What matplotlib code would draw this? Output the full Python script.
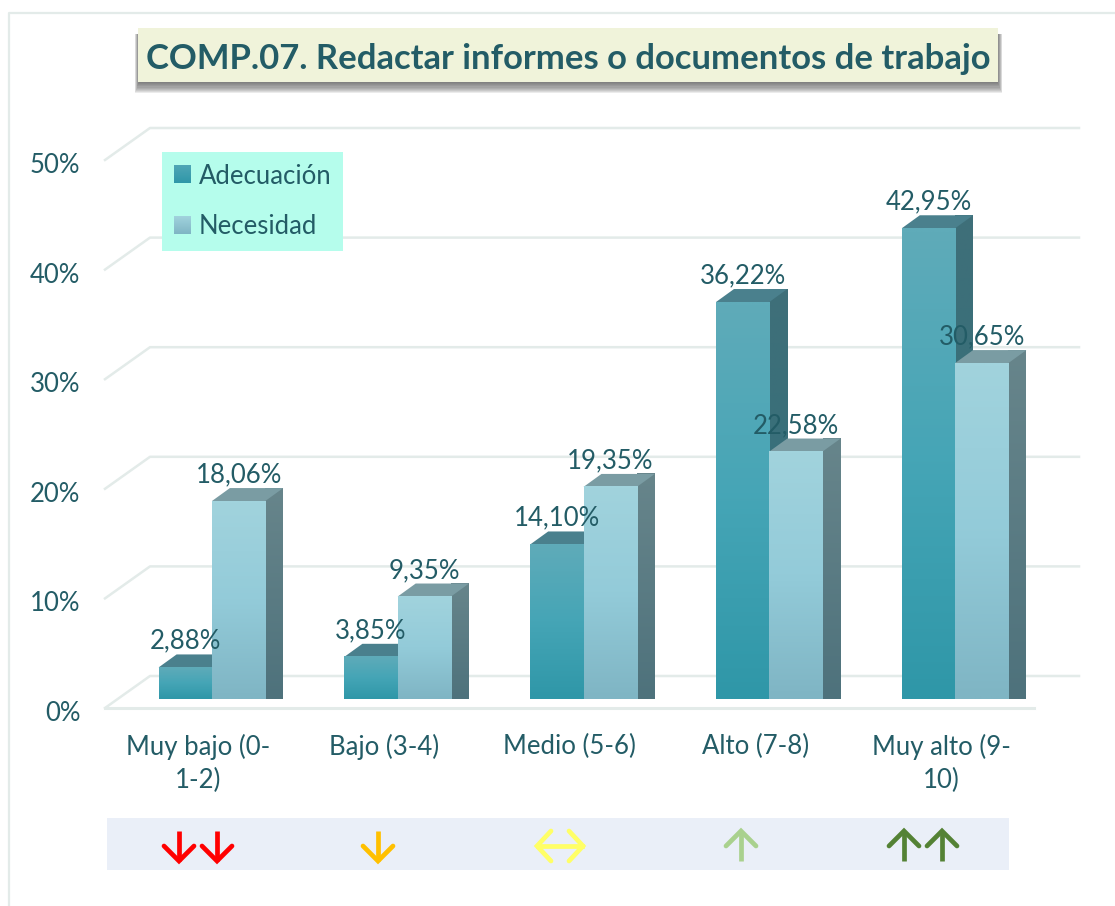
import matplotlib
matplotlib.use("Agg")
import matplotlib.pyplot as plt
import numpy as np
from matplotlib.colors import to_rgb
from matplotlib.patches import Patch, Polygon, Rectangle
from matplotlib.transforms import ScaledTranslation

categories = ["Muy bajo (0-\n1-2)", "Bajo (3-4)", "Medio (5-6)", "Alto (7-8)", "Muy alto (9-\n10)"]
adecuacion = [2.88, 3.85, 14.10, 36.22, 42.95]
necesidad = [18.06, 9.35, 19.35, 22.58, 30.65]
y_ticks = [0, 10, 20, 30, 40, 50]
title = "COMP.07. Redactar informes o documentos de trabajo"

W, H = 1115, 906
TEXT = "#235C66"
GRID = "#E3EBE9"
plt.rcParams["font.family"] = ["Lato", "DejaVu Sans"]

fig = plt.figure(figsize=(W / 100, H / 100), dpi=100, facecolor="white")

# decoration layer in pixel coordinates
deco = fig.add_axes([0, 0, 1, 1], zorder=0)
deco.set_xlim(0, W)
deco.set_ylim(H, 0)
deco.axis("off")
deco.plot([W, 8.5, 8.5], [12.5, 12.5, H], color=GRID, lw=1.6)

# main chart
L, R, B, T = 105, 1034, 708, 160
ax = fig.add_axes([L / W, 1 - B / H, (R - L) / W, (B - T) / H], zorder=1)
ax.patch.set_alpha(0)
ax.set_xlim(-0.5, 4.5)
ax.set_ylim(0, 50)
px_x = (R - L) / 5
px_y = (B - T) / 50

for s in ["left", "right", "top"]:
    ax.spines[s].set_visible(False)
ax.spines["bottom"].set_color(GRID)
ax.spines["bottom"].set_linewidth(2.2)
ax.set_yticks(y_ticks)
ax.set_yticklabels([f"{v}%" for v in y_ticks])
ax.set_xticks(range(len(categories)))
ax.set_xticklabels(categories, linespacing=1.36)
ax.tick_params(axis="y", length=0, pad=17.8, labelsize=18.5, labelcolor=TEXT)
ax.tick_params(axis="x", length=0, pad=18.8, labelsize=18.5, labelcolor=TEXT)
shift = ScaledTranslation(0, -3 / 100, fig.dpi_scale_trans)
for lab in ax.get_yticklabels():
    lab.set_transform(lab.get_transform() + shift)

wall_dx, wall_dy = 45 / px_x, 32 / px_y
for v in y_ticks:
    ax.plot([-0.5, -0.5 + wall_dx, 4.5 + wall_dx], [v, v + wall_dy, v + wall_dy],
            color=GRID, lw=1.8, clip_on=False, zorder=1)

# 3D bars
off_x, off_y = 14 / px_x, 9 / px_y
bar_w = 53.3 / px_x
dep_x, dep_y = 18 / px_x, 13 / px_y


def gradient(target, x0, x1, y0, y1, stops, z):
    t = np.linspace(0, 1, 64)
    pos = np.linspace(0, 1, len(stops))
    rgb = np.array([to_rgb(c) for c in stops])
    arr = np.stack([np.interp(t, pos, rgb[:, k]) for k in range(3)], axis=1)[:, None, :]
    return target.imshow(arr, extent=[x0, x1, y0, y1], aspect="auto",
                         origin="upper", interpolation="bilinear", zorder=z, clip_on=False)


def bar3d(x0, v, front, side, roof, z):
    x1 = x0 + bar_w
    y0 = off_y
    y1 = off_y + v
    gradient(ax, x0, x1, y0, y1, front, z + 0.2)
    im = gradient(ax, x1, x1 + dep_x, y0, y1 + dep_y, side, z)
    im.set_clip_path(Polygon([(x1, y0), (x1 + dep_x, y0 + dep_y), (x1 + dep_x, y1 + dep_y), (x1, y1)],
                             closed=True, transform=ax.transData))
    ax.add_patch(Polygon([(x0, y1), (x1, y1), (x1 + dep_x, y1 + dep_y), (x0 + dep_x, y1 + dep_y)],
                         closed=True, fc=roof, ec="none", zorder=z + 0.1, clip_on=False))


ADEC_FRONT = ("#5FABB9", "#45A5B6", "#2F97A8")
NECE_FRONT = ("#A1D3DD", "#93CBD9", "#7FB5C4")
ADEC = dict(front=ADEC_FRONT, side=("#3F6F79", "#2F6F7C"), roof="#4A808D")
NECE = dict(front=NECE_FRONT, side=("#67858B", "#4E727C"), roof="#7A9CA3")

for i, (a, n) in enumerate(zip(adecuacion, necesidad)):
    z = 3 + i
    bar3d(i + off_x - bar_w, a, z=z, **ADEC)
    bar3d(i + off_x, n, z=z + 0.5, **NECE)

for i, (a, n) in enumerate(zip(adecuacion, necesidad)):
    for v, xc in ((a, i + off_x - bar_w / 2), (n, i + off_x + bar_w / 2)):
        ax.annotate(f"{v:.2f}%".replace(".", ","), (xc, v + off_y + dep_y),
                    xytext=(0, 9.5), textcoords="offset points", ha="center", va="center",
                    fontsize=18.5, color=TEXT, zorder=20, annotation_clip=False)

ax.set_xlim(-0.5, 4.5)
ax.set_ylim(0, 50)

# legend
leg = ax.legend(handles=[Patch(fc="#3F9DAE", ec="none", label="Adecuación"),
                         Patch(fc="#97C8D5", ec="none", label="Necesidad")],
                loc="upper left", bbox_to_anchor=(162 / W, 1 - 152 / H),
                bbox_transform=fig.transFigure, fontsize=18.5, labelcolor=TEXT,
                facecolor="#B5FDEC", edgecolor="none", framealpha=1, fancybox=False,
                handlelength=0.65, handleheight=0.65, handletextpad=0.33,
                labelspacing=1.0, borderpad=0.45, borderaxespad=0)
leg.set_zorder(15)

# title box and shadow on top layer
top = fig.add_axes([0, 0, 1, 1], zorder=2)
top.set_xlim(0, W)
top.set_ylim(H, 0)
top.axis("off")
for k in range(10, 0, -1):
    top.add_patch(Rectangle((139 - k * 0.4, 34), 858 + k * 0.9, 48 + k * 1.1,
                            fc="#4A4A4A", ec="none", alpha=0.11))
top.add_patch(Rectangle((138, 28), 860, 54, fc="#F0F3DA", ec="none"))
top.text(568, 59, title, ha="center", va="center", fontsize=24.9, fontweight="bold", color=TEXT)

# indicator strip
top.add_patch(Rectangle((107, 818), 902, 52, fc="#EAEFF8", ec="none"))


def arrow_v(x, color, up):
    tip, tail = (831, 861) if up else (861, 831)
    wing = tip + (15 if up else -15)
    top.plot([x, x], [tip, tail], color=color, lw=3.4, solid_capstyle="butt")
    top.plot([x - 15, x, x + 15], [wing, tip, wing], color=color, lw=3.4,
             solid_capstyle="round", solid_joinstyle="miter")


for x in (179, 217):
    arrow_v(x, "#FF0000", False)
arrow_v(378, "#FFC000", False)
top.plot([538, 582], [846, 846], color="#FFFF66", lw=3.4)
for xt, xw in ((537, 551), (583, 569)):
    top.plot([xw, xt, xw], [831, 846, 861], color="#FFFF66", lw=3.4,
             solid_capstyle="round", solid_joinstyle="miter")
arrow_v(741, "#A9D18E", True)
for x in (904, 942):
    arrow_v(x, "#548235", True)

# gradient swatches over the legend keys (layout must be resolved first)
fig.canvas.draw()
renderer = fig.canvas.get_renderer()
for handle, stops in zip(leg.legend_handles, (("#4FA6B6", "#2F97A8"), ("#A1D3DD", "#7FB5C4"))):
    bb = handle.get_window_extent(renderer)
    gradient(top, bb.x0, bb.x1, H - bb.y0, H - bb.y1, stops, 5)
top.set_xlim(0, W)
top.set_ylim(H, 0)

fig.savefig("out.png", dpi=100)
